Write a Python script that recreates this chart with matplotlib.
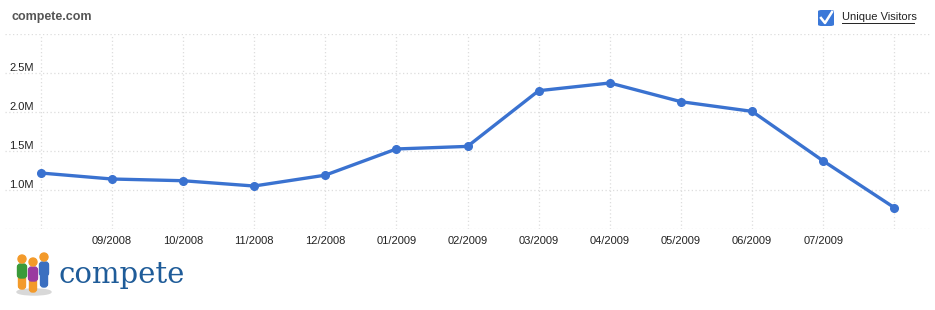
import matplotlib
matplotlib.use('Agg')
import matplotlib.pyplot as plt
from matplotlib.patches import Circle, FancyBboxPatch, Ellipse
from matplotlib.lines import Line2D

# Datos: visitantes únicos por mes (millones)
meses = ['08/2008', '09/2008', '10/2008', '11/2008', '12/2008', '01/2009', '02/2009',
         '03/2009', '04/2009', '05/2009', '06/2009', '07/2009', '08/2009']
visitantes = [1.218, 1.141, 1.119, 1.051, 1.19, 1.526, 1.559,
              2.273, 2.372, 2.132, 2.008, 1.372, 0.773]
etiquetas_x = [''] + meses[1:-1] + ['']
valores_y = [1.0, 1.5, 2.0, 2.5]
etiquetas_y = ['1.0M', '1.5M', '2.0M', '2.5M']

plt.rcParams['font.family'] = ['Liberation Sans', 'DejaVu Sans']

W, H = 935, 310
fig = plt.figure(figsize=(W / 100, H / 100), dpi=100)
fig.patch.set_facecolor('white')

# Área del gráfico
ax = fig.add_axes([5 / W, (H - 229) / H, 925 / W, 195 / H])
x = list(range(len(meses)))
ax.plot(x, visitantes, color='#3a72d0', linewidth=2.4, marker='o', markersize=5.5,
        solid_capstyle='round', zorder=3)
ax.set_xlim(-0.5, 12.5)
ax.set_ylim(0.5, 3.0)
ax.set_xticks(x)
ax.set_xticklabels(etiquetas_x, fontsize=8, color='#222222')
ax.set_yticks([0.5, 1.0, 1.5, 2.0, 2.5, 3.0])
ax.set_yticklabels([])
ax.tick_params(axis='both', length=0)
ax.tick_params(axis='x', pad=5)
ax.grid(True, color='#dddddd', linestyle=(0, (1, 2)), linewidth=0.9)
for s in ax.spines.values():
    s.set_visible(False)

for v, t in zip(valores_y, etiquetas_y):
    ax.text(0.0045, v, t, transform=ax.get_yaxis_transform(), ha='left', va='bottom',
            fontsize=8, color='#222222')

# Título y leyenda
fig.text(12 / W, 1 - 17 / H, 'compete.com', fontsize=9, fontweight='bold',
         color='#555555', va='center', ha='left')

caja = FancyBboxPatch((818 / W, 1 - 26 / H), 16 / W, 16 / H,
                      boxstyle='round,pad=0,rounding_size=0.004',
                      transform=fig.transFigure, facecolor='#3b78d8', edgecolor='none')
fig.patches.append(caja)
fig.lines.append(Line2D([821 / W, 825 / W, 832 / W], [1 - 18 / H, 1 - 23 / H, 1 - 12 / H],
                        transform=fig.transFigure, color='white', linewidth=1.8))
fig.text(842 / W, 1 - 17 / H, 'Unique Visitors', fontsize=8, color='#222222',
         va='center', ha='left')
fig.lines.append(Line2D([842 / W, 914 / W], [1 - 22.5 / H, 1 - 22.5 / H],
                        transform=fig.transFigure, color='#222222', linewidth=0.7))

# Logo de compete
lx = fig.add_axes([14 / W, (H - 297) / H, 40 / W, 45 / H])
lx.set_xlim(14, 54)
lx.set_ylim(297, 252)
lx.axis('off')
lx.add_patch(Ellipse((34, 292), 34, 6, color='#d8d8d8'))
personas = [(22, 259, '#3a9a3a', '#f39a2a'), (44, 257, '#3b6fc0', '#3b6fc0'),
            (33, 262, '#9a3aa0', '#f39a2a')]
for cx, cy, cuerpo, piernas in personas:
    lx.add_patch(FancyBboxPatch((cx - 3.5, cy + 14), 7, 16, boxstyle='round,pad=0,rounding_size=3',
                                color=piernas))
    lx.add_patch(FancyBboxPatch((cx - 4.5, cy + 5), 9, 14, boxstyle='round,pad=0,rounding_size=3',
                                color=cuerpo))
    lx.add_patch(Circle((cx, cy), 4, color='#f39a2a'))
fig.text(59 / W, 1 - 283 / H, 'compete', fontsize=21, family='DejaVu Serif',
         color='#1f5c99', va='baseline', ha='left')

fig.savefig('out.png', dpi=100, facecolor='white')
